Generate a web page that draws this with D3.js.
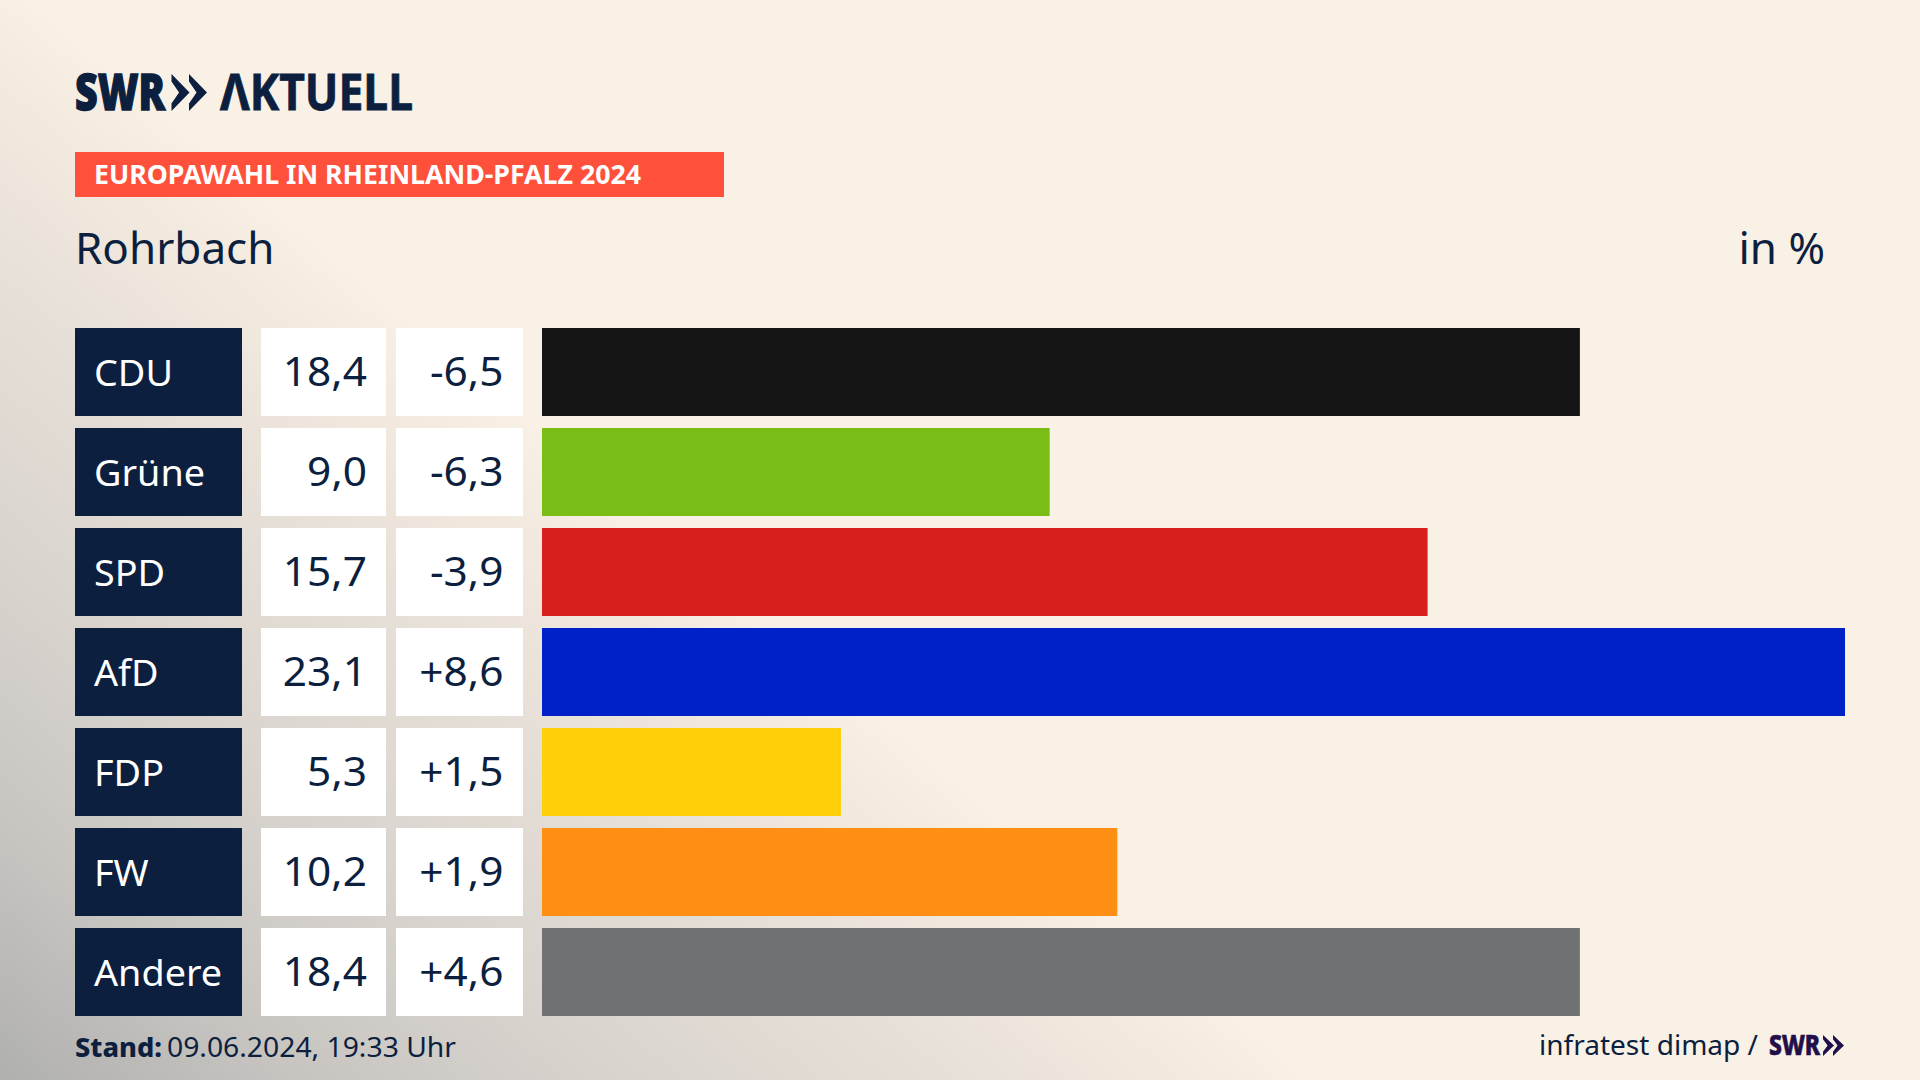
<!DOCTYPE html>
<html lang="de">
<head>
<meta charset="utf-8">
<script src="https://cdn.jsdelivr.net/npm/d3@7/dist/d3.min.js"></script>
<style>
html,body{margin:0;padding:0;background:#faf1e6;overflow:hidden}
svg{display:block}
text{font-family:"Noto Sans",sans-serif}
</style>
</head>
<body>
<div id="chart"></div>
<script>
const parties = ["CDU","Grüne","SPD","AfD","FDP","FW","Andere"];
const shares = [18.4,9.0,15.7,23.1,5.3,10.2,18.4];
const changes = [-6.5,-6.3,-3.9,8.6,1.5,1.9,4.6];
const barColors = ["#141414","#7abd17","#d71f1d","#0021c8","#ffcf0a","#ff8e14","#707173"];
const navy = "#0c1f3f";

const W = 1920, H = 1080;
const svg = d3.select("#chart").append("svg").attr("width",W).attr("height",H).attr("viewBox",`0 0 ${W} ${H}`);

const defs = svg.append("defs");
const grad = defs.append("linearGradient").attr("id","bg").attr("gradientUnits","userSpaceOnUse")
  .attr("x1",40).attr("y1",0).attr("x2",-509).attr("y2",652);
[[0,"#faf1e6"],[0.1,"#f3eadf"],[0.29,"#e6dfd7"],[0.52,"#d9d4ce"],[0.75,"#c9c6c2"],[1,"#b0b0af"]].forEach(([o,c])=>grad.append("stop").attr("offset",o).attr("stop-color",c));
svg.append("rect").attr("width",W).attr("height",H).attr("fill","url(#bg)");

// scales
const y = d3.scaleBand().domain(parties).range([328,1016]).paddingInner(0.12).paddingOuter(0);
const x = d3.scaleLinear().domain([0,23.1]).range([542,1845]);
const fmt = v => v.toFixed(1).replace(".",",");
const fmtD = v => (v>0?"+":"-")+Math.abs(v).toFixed(1).replace(".",",");

// logo
function chevrons(g,x0,yTop,h,w,gap,fill){
  const p = d3.path();
  [0,1].forEach(i=>{
    const l = x0+i*gap, m = yTop+h/2, b = yTop+h;
    p.moveTo(l,yTop); p.lineTo(l+w,m); p.lineTo(l,b);
    p.lineTo(l,b-h*0.2); p.lineTo(l+w*0.42,m); p.lineTo(l,yTop+h*0.2); p.closePath();
  });
  g.append("path").attr("d",p.toString()).attr("fill",fill);
}
svg.append("text").attr("x",75).attr("y",110).attr("fill",navy).attr("stroke",navy).attr("stroke-width",1.4)
  .attr("font-size",50).attr("font-weight",900)
  .attr("textLength",90).attr("lengthAdjust","spacingAndGlyphs").text("SWR");
chevrons(svg,171.5,74,37,18,17.5,navy);
svg.append("text").attr("x",220).attr("y",110).attr("fill",navy).attr("stroke",navy).attr("stroke-width",0.8)
  .attr("font-size",50).attr("font-weight",700)
  .attr("textLength",193).attr("lengthAdjust","spacingAndGlyphs").text("ΛKTUELL");

// banner
svg.append("rect").attr("x",75).attr("y",152).attr("width",649).attr("height",45).attr("fill","#ff503c");
svg.append("text").attr("x",94).attr("y",184).attr("fill","#fff").attr("font-size",27).attr("font-weight",700)
  .attr("textLength",547).attr("lengthAdjust","spacingAndGlyphs").text("EUROPAWAHL IN RHEINLAND-PFALZ 2024");

// titles
svg.append("text").attr("x",75).attr("y",264).attr("fill",navy).attr("font-size",44).text("Rohrbach");
svg.append("text").attr("x",1825).attr("y",264).attr("text-anchor","end").attr("fill",navy).attr("font-size",44).text("in %");

// rows
const rows = svg.append("g").selectAll("g").data(parties).join("g").attr("transform",d=>`translate(0,${y(d)})`);
const bh = y.bandwidth();
rows.append("rect").attr("x",75).attr("width",167).attr("height",bh).attr("fill",navy);
rows.append("rect").attr("x",261).attr("width",125).attr("height",bh).attr("fill","#fff");
rows.append("rect").attr("x",396).attr("width",127).attr("height",bh).attr("fill","#fff");
rows.append("rect").attr("x",x(0)).attr("height",bh)
  .attr("width",(d,i)=>x(shares[i])-x(0)).attr("fill",(d,i)=>barColors[i]);
const base = bh/2+14;
const stretch = function(){ d3.select(this).attr("textLength",this.getComputedTextLength()*1.06).attr("lengthAdjust","spacingAndGlyphs"); };
rows.append("text").attr("x",94).attr("y",base).attr("fill","#fff").attr("font-size",37).text(d=>d)
  .each(function(){ d3.select(this).attr("textLength",this.getComputedTextLength()*1.02).attr("lengthAdjust","spacingAndGlyphs"); });
rows.append("text").attr("x",367).attr("y",base).attr("text-anchor","end").attr("fill",navy).attr("font-size",40).text((d,i)=>fmt(shares[i])).each(stretch);
rows.append("text").attr("x",503.5).attr("y",base).attr("text-anchor","end").attr("fill",navy).attr("font-size",40).text((d,i)=>fmtD(changes[i])).each(stretch);

// footer
svg.append("text").attr("x",75).attr("y",1057).attr("fill",navy).attr("font-size",27).attr("font-weight",800)
  .attr("textLength",87).attr("lengthAdjust","spacingAndGlyphs").text("Stand:");
svg.append("text").attr("x",167).attr("y",1057).attr("fill",navy).attr("font-size",28)
  .attr("textLength",289).attr("lengthAdjust","spacingAndGlyphs").text("09.06.2024, 19:33 Uhr");
svg.append("text").attr("x",1539).attr("y",1055).attr("fill",navy).attr("font-size",28)
  .attr("textLength",219).attr("lengthAdjust","spacingAndGlyphs").text("infratest dimap /");
svg.append("text").attr("x",1769).attr("y",1055).attr("fill","#1f0f4a").attr("stroke","#1f0f4a").attr("stroke-width",0.7)
  .attr("font-size",28).attr("font-weight",800)
  .attr("textLength",51).attr("lengthAdjust","spacingAndGlyphs").text("SWR");
chevrons(svg,1823,1035,21,11,10,"#1f0f4a");
</script>
</body>
</html>
